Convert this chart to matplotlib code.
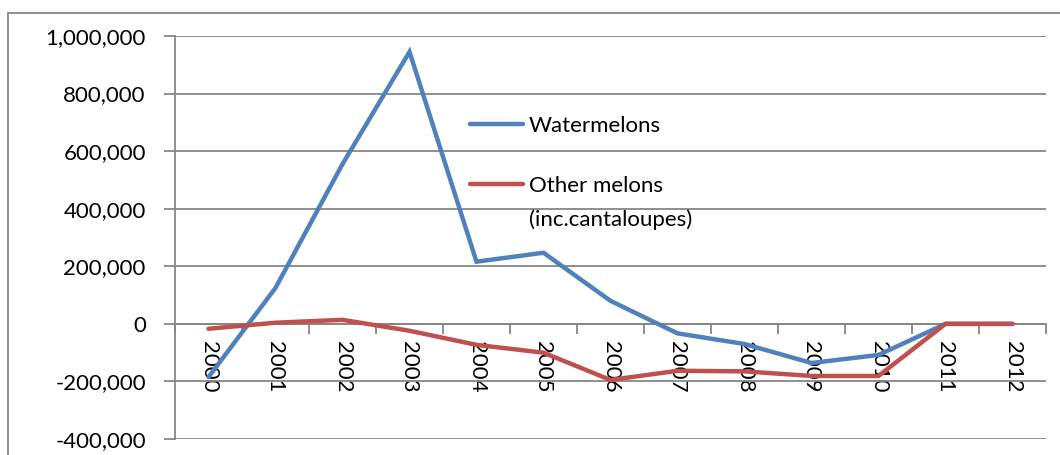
import matplotlib.pyplot as plt
import matplotlib.patches as mpatches
from matplotlib.ticker import FuncFormatter, MultipleLocator, FixedLocator

years = ["2000", "2001", "2002", "2003", "2004", "2005", "2006",
         "2007", "2008", "2009", "2010", "2011", "2012"]
watermelons = [-185000, 125000, 555000, 945000, 216000, 247000, 80000,
               -33000, -70000, -136000, -108000, 0, 0]
other_melons = [-17000, 4000, 14000, -24000, -73000, -100000, -195000,
                -163000, -165000, -181000, -181000, 0, 0]
labels = ["Watermelons", "Other melons"]
label_note = "(inc.cantaloupes)"

W, H = 1060, 455
grey = "#868686"
fs = 16
plt.rcParams["font.family"] = ["Lato", "DejaVu Sans"]

fig = plt.figure(figsize=(W / 100, H / 100), dpi=100)
ax = fig.add_axes([175 / W, 1 - 439 / H, (1046 - 175) / W, (439 - 36) / H])

x = list(range(len(years)))
ax.plot(x, watermelons, color="#4F81BD", lw=3.2, solid_capstyle="round",
        solid_joinstyle="miter", label=labels[0], zorder=3)
ax.plot(x, other_melons, color="#C0504D", lw=3.2, solid_capstyle="round",
        solid_joinstyle="miter", label=labels[1], zorder=3)

ax.set_xlim(-0.5, len(years) - 0.5)
ax.set_ylim(-400000, 1000000)
ax.yaxis.set_major_locator(MultipleLocator(200000))
ax.yaxis.set_major_formatter(FuncFormatter(lambda v, p: f"{int(v):,}"))
ax.grid(axis="y", color=grey, lw=1.3)
ax.set_axisbelow(True)

for s in ["top", "right"]:
    ax.spines[s].set_visible(False)
ax.spines["left"].set_color(grey)
ax.spines["left"].set_linewidth(1.3)
ax.spines["bottom"].set_position(("data", 0))
ax.spines["bottom"].set_color(grey)
ax.spines["bottom"].set_linewidth(1.3)

ax.set_xticks(x)
ax.set_xticklabels(years, rotation=-90, fontsize=fs)
ax.xaxis.set_minor_locator(FixedLocator([i - 0.5 for i in range(len(years) + 1)]))
ax.tick_params(axis="x", which="major", length=0, pad=12)
ax.tick_params(axis="x", which="minor", length=7, width=1.3, color=grey, direction="out")
ax.tick_params(axis="y", length=8, width=1.3, color=grey, labelsize=fs, pad=13)

leg = ax.legend(loc="upper left", bbox_to_anchor=(470 / W, 1 - 116 / H),
                bbox_transform=fig.transFigure, frameon=False, fontsize=fs,
                handlelength=2.4, handletextpad=0.25, labelspacing=1.8,
                borderpad=0, borderaxespad=0)
# second line of the red label, under "Other melons"
ax.annotate(label_note, xy=(0, 0.5), xycoords=leg.texts[1],
            xytext=(0, -24.5), textcoords="offset points",
            ha="left", va="center", fontsize=fs, zorder=10)

fig.patches.append(mpatches.Rectangle((8 / W, -0.1), 1.2, 1 - 13 / H + 0.1,
                                      transform=fig.transFigure, fill=False,
                                      edgecolor=grey, lw=1.3))

fig.savefig("out.png", dpi=100)
